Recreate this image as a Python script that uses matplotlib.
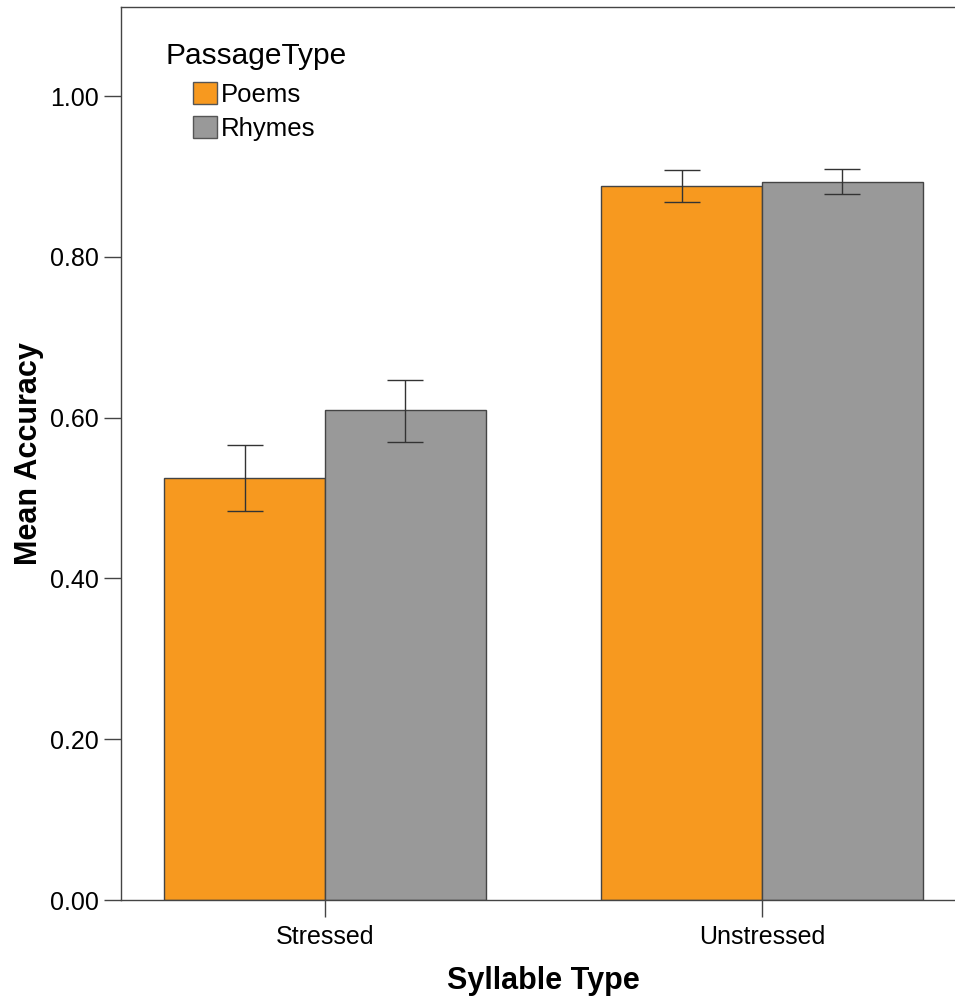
import numpy as np
import matplotlib
matplotlib.use("Agg")
import matplotlib.pyplot as plt
from matplotlib.patches import Patch

plt.rcParams['font.family'] = ['Liberation Sans', 'DejaVu Sans']

categories = ["Stressed", "Unstressed"]
series = ["Poems", "Rhymes"]
means = {
    "Poems": [0.525, 0.888],
    "Rhymes": [0.609, 0.893],
}
lower = {
    "Poems": [0.484, 0.868],
    "Rhymes": [0.570, 0.878],
}
upper = {
    "Poems": [0.566, 0.908],
    "Rhymes": [0.647, 0.909],
}
colors = {"Poems": "#F7991F", "Rhymes": "#999999"}

W, H = 955, 997
fig = plt.figure(figsize=(W / 100, H / 100), dpi=100)
ax = fig.add_axes([121 / W, 1 - 900 / H, (966 - 121) / W, (900 - 7) / H])

x = np.arange(len(categories))
width = 0.368
for i, s in enumerate(series):
    pos = x + (i - 0.5) * width
    vals = np.array(means[s])
    err = [vals - np.array(lower[s]), np.array(upper[s]) - vals]
    ax.bar(pos, vals, width, color=colors[s], edgecolor="#444444", linewidth=1.0)
    ax.errorbar(pos, vals, yerr=err, fmt="none", ecolor="#333333",
                elinewidth=1.0, capsize=13.3, capthick=1.0)

ax.set_xlim(-0.467, 1.467)
ax.set_ylim(0, 1.1107)
ax.set_xticks(x)
ax.set_xticklabels(categories)
ax.set_yticks([0, 0.2, 0.4, 0.6, 0.8, 1.0])
ax.set_yticklabels([f"{v:.2f}" for v in [0, 0.2, 0.4, 0.6, 0.8, 1.0]])
ax.tick_params(axis="both", labelsize=18, length=12, width=1.0, color="#444444", pad=4)
ax.tick_params(axis="x", pad=6)
for sp in ax.spines.values():
    sp.set_color("#444444")
    sp.set_linewidth(1.0)

ax.set_ylabel("Mean Accuracy", fontsize=22, fontweight="bold", labelpad=4)
ax.set_xlabel("Syllable Type", fontsize=22, fontweight="bold", labelpad=12)

fig.text(165 / W, 1 - 56 / H, "PassageType", fontsize=21.5, va="center", ha="left")
handles = [Patch(facecolor=colors[s], edgecolor="#555555", linewidth=1.0) for s in series]
fig.legend(handles, series, loc="upper left", bbox_to_anchor=(193 / W, 1 - 82 / H),
           bbox_transform=fig.transFigure, frameon=False, fontsize=18.5,
           handlelength=0.95, handleheight=0.95, handletextpad=0.15,
           labelspacing=0.34, borderpad=0, borderaxespad=0)

fig.savefig("out.png", dpi=100)
